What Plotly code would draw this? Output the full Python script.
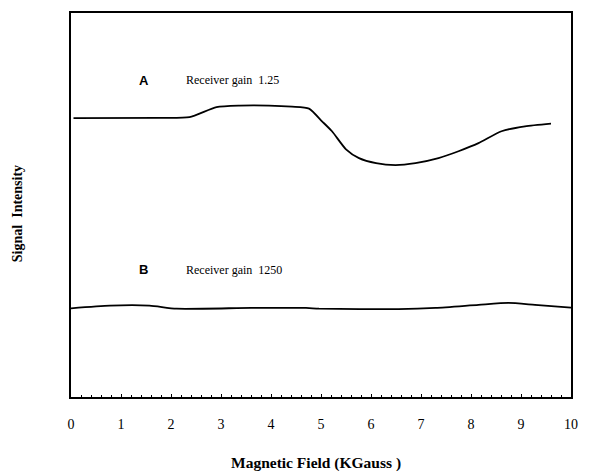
import plotly.graph_objects as go

# Magnetic field (KGauss) and signal intensity (arbitrary units, 0-100 scale)
field_a = [0.05, 1.77, 2.37, 2.91, 3.37, 3.96, 4.42, 4.76, 5.02, 5.22, 5.50,
           5.76, 6.10, 6.49, 6.89, 7.35, 7.75, 8.15, 8.61, 9.08, 9.60]
signal_a = [72.6, 72.7, 72.9, 75.5, 75.9, 75.9, 75.6, 75.1, 71.8, 69.2, 64.5,
            62.2, 60.9, 60.4, 60.9, 62.2, 64.0, 66.1, 69.2, 70.5, 71.2]

field_b = [0.0, 0.78, 1.57, 2.11, 3.60, 4.70, 4.96, 6.55, 7.29, 8.15, 8.75, 9.28, 10.0]
signal_b = [23.1, 23.8, 23.8, 23.0, 23.2, 23.2, 23.0, 22.9, 23.2, 24.0, 24.5, 24.0, 23.3]

x_ticks = [0, 1, 2, 3, 4, 5, 6, 7, 8, 9, 10]
x_tick_labels = ["0", "1", "2", "3", "4", "5", "6", "7", "8", "9", "10"]

label_a = "A"
label_b = "B"
gain_a = "Receiver gain  1.25"
gain_b = "Receiver gain  1250"
x_title = "Magnetic Field (KGauss )"
y_title = "Signal  Intensity"

fig = go.Figure()
fig.add_trace(go.Scatter(x=field_a, y=signal_a, mode="lines",
                         line=dict(color="black", width=1.8, shape="spline", smoothing=0.6),
                         showlegend=False, hoverinfo="skip"))
fig.add_trace(go.Scatter(x=field_b, y=signal_b, mode="lines",
                         line=dict(color="black", width=1.8, shape="spline", smoothing=0.6),
                         showlegend=False, hoverinfo="skip"))

serif = "Liberation Serif, Times New Roman, serif"
sans = "Liberation Sans, Arial, sans-serif"

L, R, T, B = 71, 573, 11, 397
W, H = R - L, B - T

fig.update_layout(
    width=589, height=474,
    margin=dict(l=L, r=589 - R, t=T, b=474 - B),
    paper_bgcolor="white", plot_bgcolor="white",
    xaxis=dict(range=[0, 10], tickvals=x_ticks, ticktext=x_tick_labels,
               showgrid=False, zeroline=False,
               showline=True, linecolor="black", linewidth=1.5, mirror=True,
               ticks="inside", ticklen=3, tickcolor="black", tickwidth=1,
               minor=dict(dtick=0.2, ticks="inside", ticklen=2, tickcolor="black", tickwidth=1),
               ticklabelstandoff=13,
               tickfont=dict(family=serif, size=14, color="black")),
    yaxis=dict(range=[0, 100], showgrid=False, zeroline=False,
               showline=True, linecolor="black", linewidth=1.5, mirror=True,
               showticklabels=False, ticks=""),
    annotations=[
        dict(x=1.45, y=82.5, xref="x", yref="y", text=f"<b>{label_a}</b>", showarrow=False,
             font=dict(family=sans, size=13, color="black")),
        dict(x=2.25, y=82.5, xref="x", yref="y", text=gain_a, showarrow=False, xanchor="left",
             font=dict(family=serif, size=12, color="black")),
        dict(x=1.45, y=33.2, xref="x", yref="y", text=f"<b>{label_b}</b>", showarrow=False,
             font=dict(family=sans, size=13, color="black")),
        dict(x=2.25, y=33.2, xref="x", yref="y", text=gain_b, showarrow=False, xanchor="left",
             font=dict(family=serif, size=12, color="black")),
        dict(x=(317 - L) / W, y=-(463 - B) / H, xref="paper", yref="paper",
             xanchor="center", yanchor="middle", text=f"<b>{x_title}</b>",
             showarrow=False, font=dict(family=serif, size=15.5, color="black")),
        dict(x=-(L - 18) / W, y=(B - 213) / H, xref="paper", yref="paper",
             xanchor="center", yanchor="middle", text=f"<b>{y_title}</b>",
             showarrow=False, textangle=-90,
             font=dict(family=serif, size=14, color="black")),
    ],
)

fig.write_html("out.html")
